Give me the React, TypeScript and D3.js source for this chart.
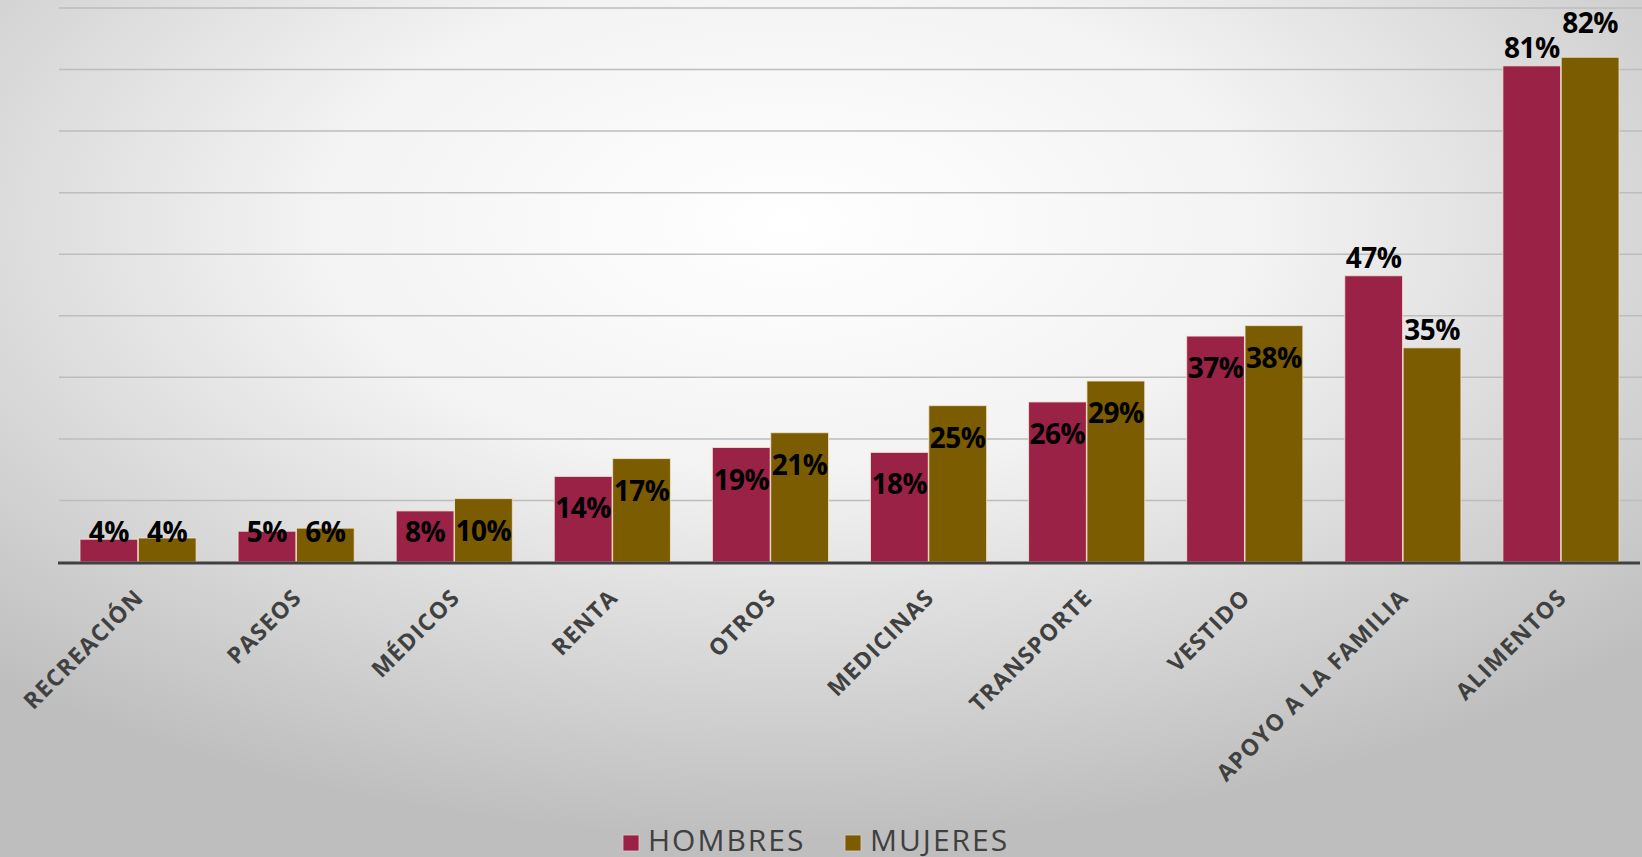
import * as d3 from "d3";

const categories = [
  "RECREACIÓN",
  "PASEOS",
  "MÉDICOS",
  "RENTA",
  "OTROS",
  "MEDICINAS",
  "TRANSPORTE",
  "VESTIDO",
  "APOYO A LA FAMILIA",
  "ALIMENTOS",
];
const hombres = [3.7, 5.0, 8.3, 13.9, 18.6, 17.8, 26.0, 36.7, 46.5, 80.6];
const mujeres = [3.9, 5.5, 10.3, 16.8, 21.0, 25.4, 29.4, 38.4, 34.8, 82.0];
const seriesNames = ["HOMBRES", "MUJERES"];
const seriesColors = ["#9B2247", "#7B5C00"];
const yTicks = [0, 10, 20, 30, 40, 50, 60, 70, 80, 90];
// categories whose value labels sit above the bars
const outsideLabelCats = ["APOYO A LA FAMILIA", "ALIMENTOS"];

const W = 1642;
const H = 857;
const margin = { left: 59, right: 2, top: 8, baseline: 562 };

export default function App() {
  const x = d3
    .scaleBand<string>()
    .domain(categories)
    .range([margin.left, W - margin.right])
    .paddingInner(0.258)
    .paddingOuter(0.129);
  const x1 = d3.scaleBand<string>().domain(seriesNames).range([0, x.bandwidth()]).padding(0.01);
  const y = d3.scaleLinear().domain([0, 90]).range([margin.baseline, margin.top]);

  const series = [hombres, mujeres];

  return (
    <svg
      width={W}
      height={H}
      style={{ position: "absolute", left: 0, top: 0, display: "block" }}
    >
      <defs>
        <radialGradient id="bg" cx="48%" cy="26%" r="72%" fx="48%" fy="26%">
          <stop offset="0%" stopColor="#ffffff" />
          <stop offset="40%" stopColor="#f3f3f3" />
          <stop offset="100%" stopColor="#bebebe" />
        </radialGradient>
      </defs>
      <rect width={W} height={H} fill="url(#bg)" />

      {/* gridlines */}
      {yTicks.slice(1).map((t) => (
        <line
          key={t}
          x1={margin.left}
          x2={W}
          y1={y(t)}
          y2={y(t)}
          stroke="#bdbdbd"
          strokeWidth={1.5}
        />
      ))}

      {/* bars */}
      {series.map((vals, si) =>
        vals.map((v, i) => {
          const bx = (x(categories[i]) ?? 0) + (x1(seriesNames[si]) ?? 0);
          const by = y(v);
          return (
            <rect
              key={`${si}-${i}`}
              x={bx}
              y={by}
              width={x1.bandwidth()}
              height={margin.baseline - by}
              fill={seriesColors[si]}
              stroke="#f3e6d6"
              strokeOpacity={0.8}
              strokeWidth={1}
            />
          );
        })
      )}

      {/* axis line */}
      <line
        x1={margin.left - 1}
        x2={W - margin.right}
        y1={margin.baseline + 1}
        y2={margin.baseline + 1}
        stroke="#404040"
        strokeWidth={3}
      />

      {/* value labels */}
      {series.map((vals, si) =>
        vals.map((v, i) => {
          const cx = (x(categories[i]) ?? 0) + (x1(seriesNames[si]) ?? 0) + x1.bandwidth() / 2;
          const top = y(v);
          let ty: number;
          if (outsideLabelCats.includes(categories[i])) {
            ty = top - 8 - (si === 1 && v > 80 ? 16 : 0);
          } else {
            ty = Math.min(top + 32, margin.baseline - 30) + 10;
          }
          return (
            <text
              key={`l-${si}-${i}`}
              x={cx}
              y={ty}
              textAnchor="middle"
              fontFamily="'Open Sans', sans-serif"
              fontWeight={700}
              fontSize={28}
              letterSpacing={-0.5}
              fill="#000"
            >
              {`${Math.round(v)}%`}
            </text>
          );
        })
      )}

      {/* category labels */}
      {categories.map((c) => {
        const cx = (x(c) ?? 0) + x.bandwidth() / 2;
        const ly = margin.baseline + 37;
        return (
          <text
            key={c}
            transform={`translate(${cx + 7},${ly}) rotate(-45)`}
            textAnchor="end"
            fontFamily="'Open Sans', sans-serif"
            fontWeight={700}
            fontSize={23}
            letterSpacing={1.2}
            fill="#404040"
          >
            {c}
          </text>
        );
      })}

      {/* legend */}
      {seriesNames.map((s, si) => {
        const lx = [623, 845][si];
        return (
          <g key={s}>
            <rect x={lx} y={835} width={16} height={16} fill={seriesColors[si]} stroke="#e0c8c8" strokeWidth={0.8} />
            <text
              x={lx + 25}
              y={851}
              fontFamily="'Open Sans', sans-serif"
              fontSize={30}
              letterSpacing={2}
              fill="#404040"
            >
              {s}
            </text>
          </g>
        );
      })}
    </svg>
  );
}
